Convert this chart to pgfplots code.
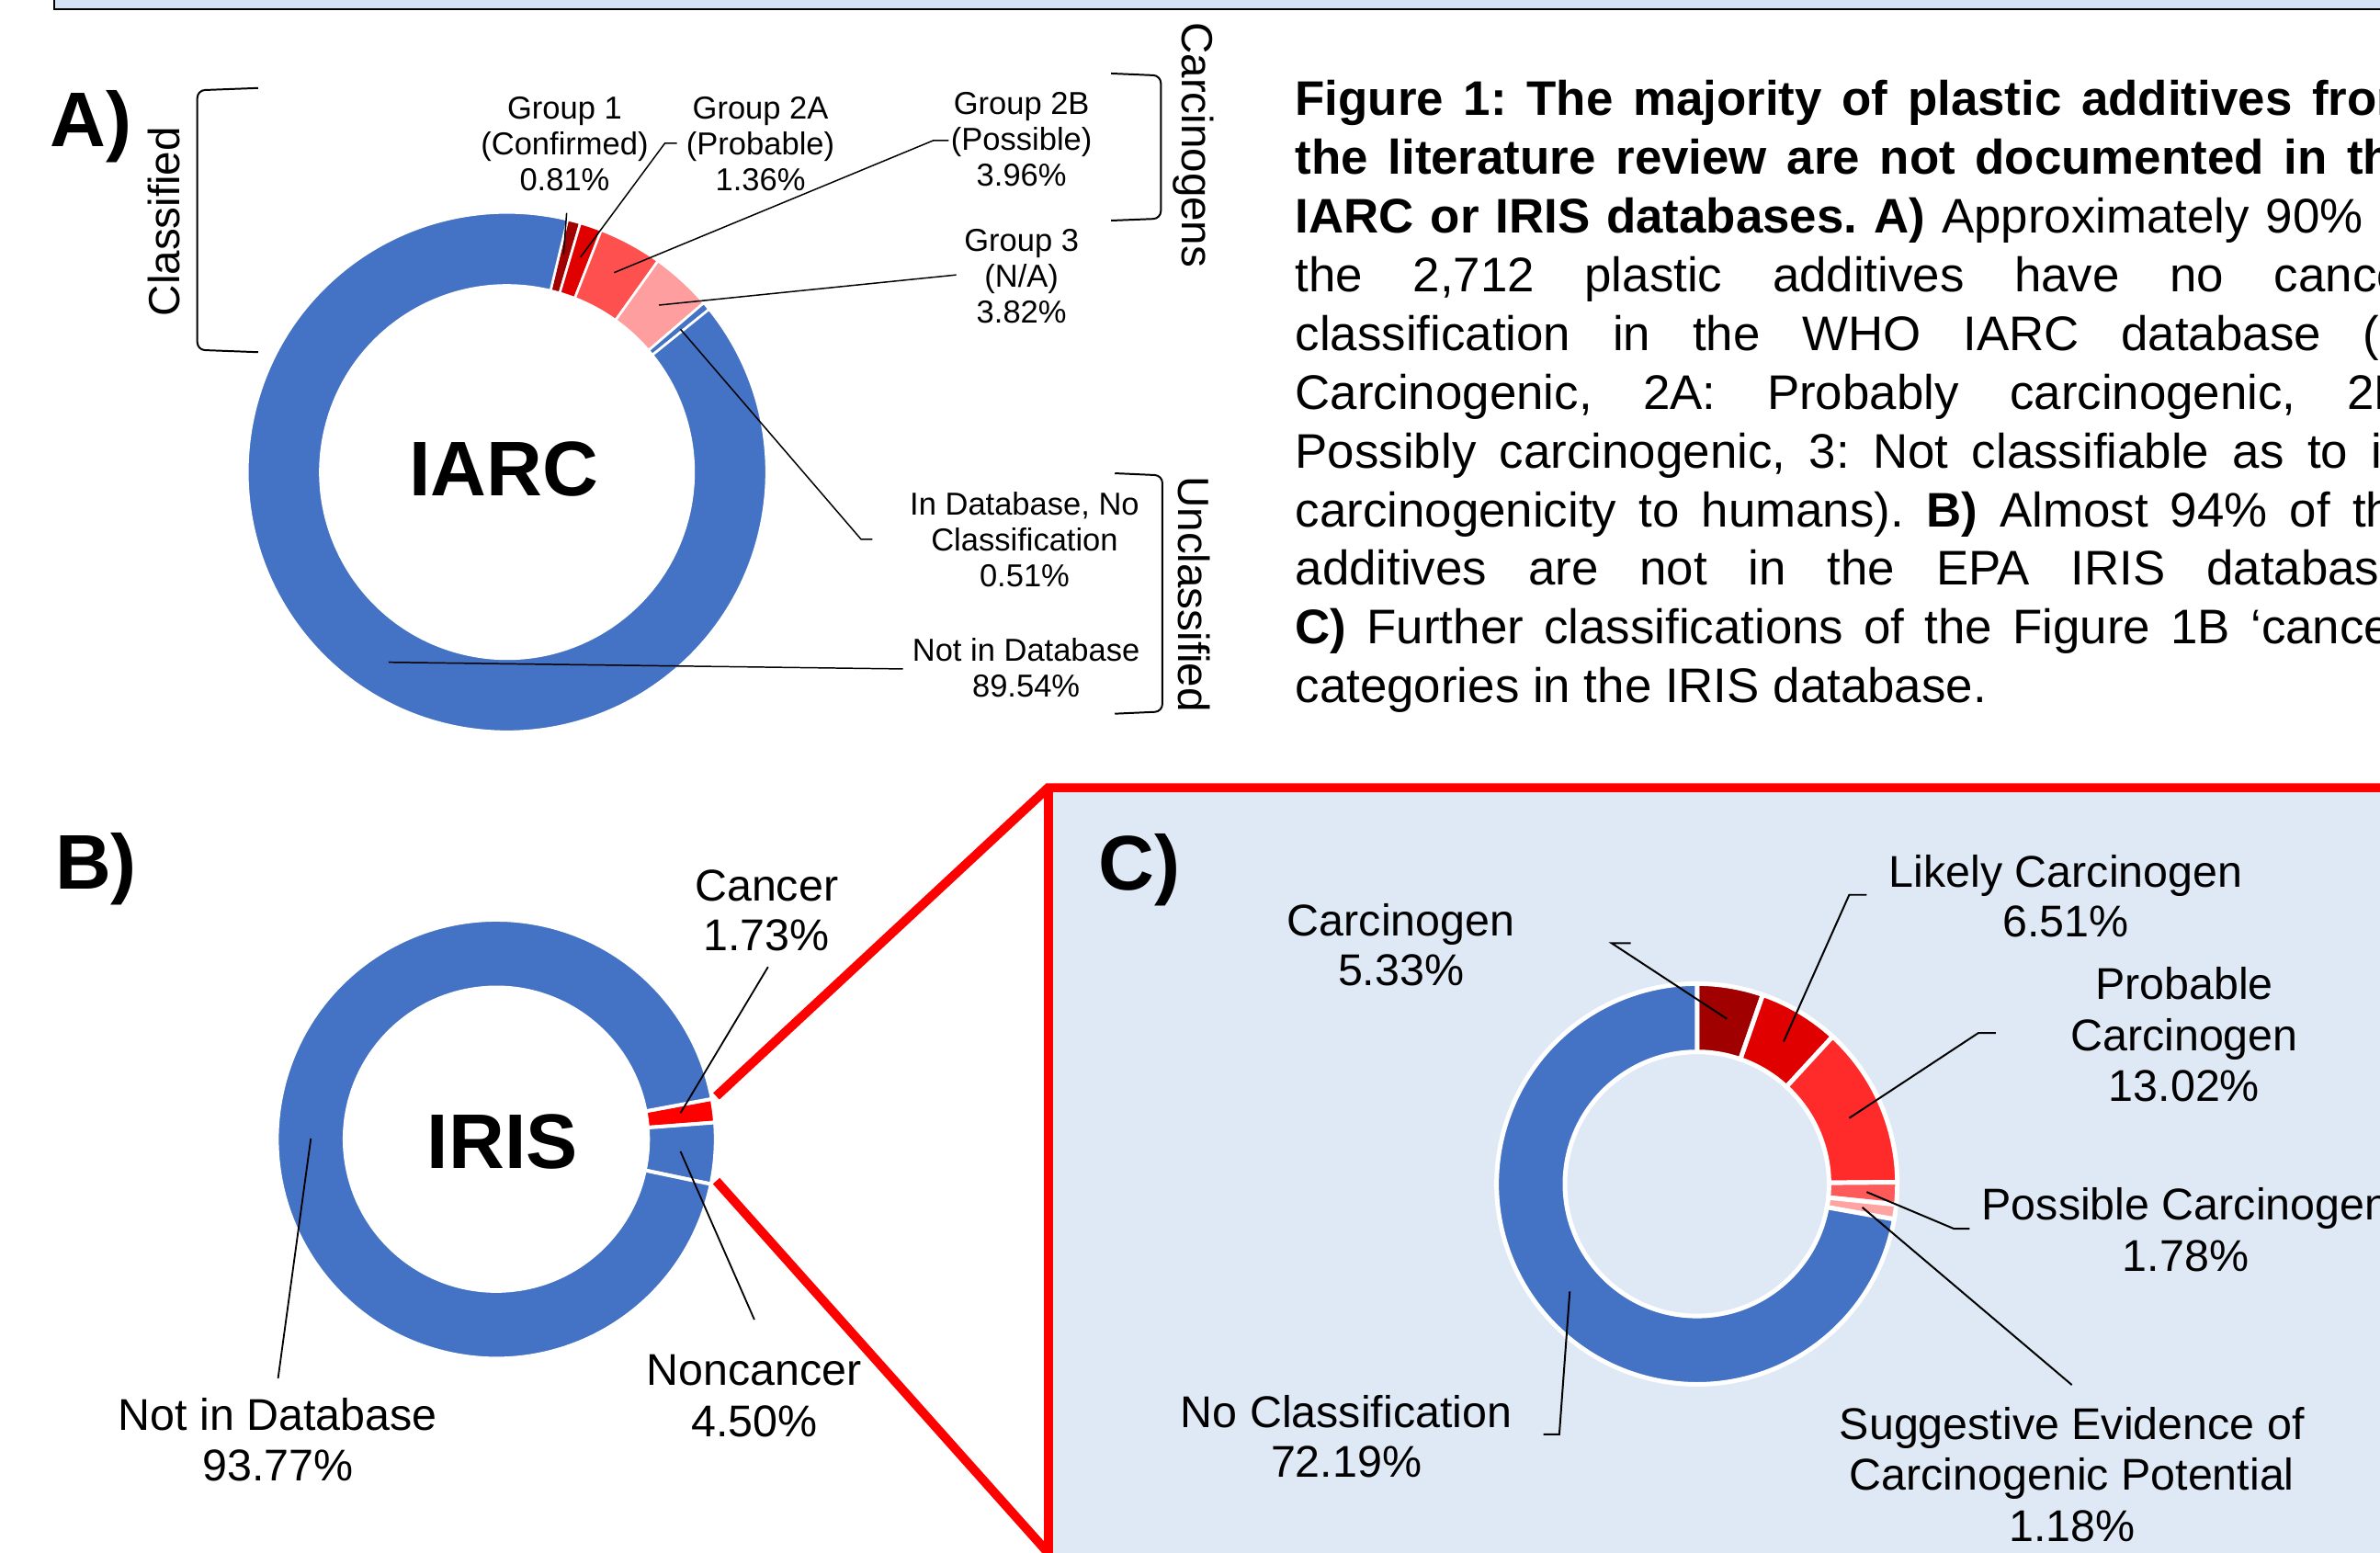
\documentclass[border=0pt]{standalone}
\usepackage{pgfplots}
\pgfplotsset{compat=1.18}
\usepackage{fontspec}
\setmainfont{Liberation Sans}
\frenchspacing
\definecolor{pblue}{HTML}{4472C4}
\definecolor{gA}{HTML}{A00000}
\definecolor{gB}{HTML}{E00000}
\definecolor{gC}{HTML}{FF5050}
\definecolor{gD}{HTML}{FF9E9E}
\definecolor{cA}{HTML}{A00000}
\definecolor{cB}{HTML}{E00000}
\definecolor{cC}{HTML}{FF2B2B}
\definecolor{cD}{HTML}{FF5A5A}
\definecolor{cE}{HTML}{FFA3A3}
\definecolor{topbg}{HTML}{D5E2F6}
\definecolor{cbg}{HTML}{DEE9F5}
\newcommand\fa{\fontsize{10.45}{12}\selectfont}
\newcommand\fb{\fontsize{14.65}{17}\selectfont}
\newcommand\fr{\fontsize{14.4}{17}\selectfont}
\newcommand\fc{\fontsize{16}{19}\selectfont}
\newcommand\fL{\bfseries\fontsize{25.5}{30}\selectfont}
\newcommand\capw{370.5pt}
% donut helpers: centre, inner radius, outer radius (in picture units), start angle
\newcommand{\donutstart}[6]{\gdef\dcx{#1}\gdef\dcy{#2}%
  \pgfmathsetmacro\dri{#3*0.5}\global\let\dri\dri
  \pgfmathsetmacro\dro{#4*0.5}\global\let\dro\dro
  \xdef\dang{#5}\gdef\seplw{#6}}
\newcommand{\slice}[2]{%
  \pgfmathsetmacro\dend{\dang-#1*3.6}%
  \edef\tmp{\noexpand\fill[fill=#2,draw=white,line width=\seplw]
    ([shift={(\dang:\dro pt)}]axis cs:\dcx,\dcy)
    arc[start angle=\dang, end angle=\dend, radius=\dro pt]
    -- ([shift={(\dend:\dri pt)}]axis cs:\dcx,\dcy)
    arc[start angle=\dend, end angle=\dang, radius=\dri pt] -- cycle;}%
  \tmp
  \xdef\dang{\dend}}
\begin{document}
\begin{tikzpicture}
\useasboundingbox (0,0) rectangle (784pt,511.5pt);
\clip (0,0) rectangle (784pt,511.5pt);
\begin{axis}[at={(0,0)}, anchor=south west, x=0.5pt, y=0.5pt,
  xmin=0, xmax=1568, ymin=0, ymax=1023, y dir=reverse,
  hide axis, clip=false]
% top frame
\draw[line width=0.6pt, fill=topbg] (36,-40) rectangle (1700,6);
% panel C box
\fill[cbg] (690.5,519) rectangle (1700,1100);
\draw[red, line width=3pt, line join=miter] (471.9,722.2) -- (690.5,519) -- (1700,519);
\draw[red, line width=3pt] (690.5,1100) -- (690.5,519);
\draw[red, line width=3pt] (471.9,778) -- (690.5,1023);

% ---------- A) IARC ----------
\donutstart{334}{311}{123}{171}{76.5}{0.8pt}
\slice{0.81}{gA}\slice{1.36}{gB}\slice{3.96}{gC}\slice{3.82}{gD}\slice{0.51}{pblue}\slice{89.54}{pblue}
\node[font=\fL] at (332,309) {IARC};
\node[anchor=base west, inner sep=0, font=\fL] at (32.6,96.6) {A)};
\begin{scope}[font=\fa]
\node[anchor=base] at (372,78.5) {Group 1};
\node[anchor=base] at (372,102) {(Confirmed)};
\node[anchor=base] at (372,125.5) {0.81\%};
\node[anchor=base] at (501,78.5) {Group 2A};
\node[anchor=base] at (501,102) {(Probable)};
\node[anchor=base] at (501,125.5) {1.36\%};
\node[anchor=base] at (673,75.5) {Group 2B};
\node[anchor=base] at (673,99) {(Possible)};
\node[anchor=base] at (673,122.5) {3.96\%};
\node[anchor=base] at (673,165.5) {Group 3};
\node[anchor=base] at (673,189) {(N/A)};
\node[anchor=base] at (673,212.5) {3.82\%};
\node[anchor=base] at (675,339.5) {In Database, No};
\node[anchor=base] at (675,363) {Classification};
\node[anchor=base] at (675,386.5) {0.51\%};
\node[anchor=base] at (676,435.5) {Not in Database};
\node[anchor=base] at (676,459) {89.54\%};
\end{scope}
\begin{scope}[line width=0.45pt]
\draw (373.3,140.3) -- (371.3,167.5);
\draw (446,94.4) -- (438,94.4) -- (382.4,169.5);
\draw (625,92.5) -- (615,92.5) -- (404.6,179.6);
\draw (630,181.1) -- (434.2,201);
\draw (448.3,216.9) -- (567.3,355.3) -- (574.8,355.3);
\draw (256,436.3) -- (594.9,440.7);
\end{scope}
\begin{scope}[line width=0.6pt, rounded corners=2.5pt]
\draw (170,58) -- (130,59.5) -- (130,230.5) -- (170,232);
\draw (732,48.4) -- (764.8,49.8) -- (764.8,144) -- (732,145.3);
\draw (734.5,311.8) -- (765.8,313.2) -- (765.8,468.8) -- (734.5,470.2);
\end{scope}
\node[rotate=90, font=\fr] at (108,146) {Classified};
\node[rotate=-90, font=\fr] at (786.5,95.5) {Carcinogens};
\node[rotate=-90, font=\fr] at (787,391.4) {Unclassified};

% ---------- caption ----------
\begin{scope}[font=\fc]
\node[anchor=base west, inner sep=0] at (853,76) {\makebox[\capw][s]{\bfseries Figure 1: The majority of plastic additives from}};
\node[anchor=base west, inner sep=0] at (853,114.7) {\makebox[\capw][s]{\bfseries the literature review are not documented in the}};
\node[anchor=base west, inner sep=0] at (853,153.4) {\makebox[\capw][s]{\textbf{IARC or IRIS databases. A)} Approximately 90\% of}};
\node[anchor=base west, inner sep=0] at (853,192.1) {\makebox[\capw][s]{the 2,712 plastic additives have no cancer}};
\node[anchor=base west, inner sep=0] at (853,230.8) {\makebox[\capw][s]{classification in the WHO IARC database (1:}};
\node[anchor=base west, inner sep=0] at (853,269.5) {\makebox[\capw][s]{Carcinogenic, 2A: Probably carcinogenic, 2B:}};
\node[anchor=base west, inner sep=0] at (853,308.2) {\makebox[\capw][s]{Possibly carcinogenic, 3: Not classifiable as to its}};
\node[anchor=base west, inner sep=0] at (853,346.9) {\makebox[\capw][s]{carcinogenicity to humans). \textbf{B)} Almost 94\% of the}};
\node[anchor=base west, inner sep=0] at (853,385.6) {\makebox[\capw][s]{additives are not in the EPA IRIS database.}};
\node[anchor=base west, inner sep=0] at (853,424.3) {\makebox[\capw][s]{\textbf{C)} Further classifications of the Figure 1B ‘cancer’}};
\node[anchor=base west, inner sep=0] at (853,463) {categories in the IRIS database.};
\end{scope}

% ---------- B) IRIS ----------
\donutstart{327}{750.5}{100}{144.5}{10.6}{1.2pt}
\slice{1.73}{red}\slice{4.50}{pblue}\slice{93.77}{pblue}
\node[font=\fL] at (331,752) {IRIS};
\node[anchor=base west, inner sep=0, font=\fL] at (36,585.5) {B)};
\begin{scope}[font=\fb]
\node[anchor=base] at (505,593.4) {Cancer};
\node[anchor=base] at (505,626.4) {1.73\%};
\node[anchor=base] at (497,912.4) {Noncancer};
\node[anchor=base] at (497,946.4) {4.50\%};
\node[anchor=base] at (183,942.4) {Not in Database};
\node[anchor=base] at (183,975.4) {93.77\%};
\end{scope}
\begin{scope}[line width=0.55pt]
\draw (506,637) -- (448.3,733.3);
\draw (448.3,758.5) -- (497,869.4);
\draw (204.8,750) -- (183.2,908);
\end{scope}

% ---------- C) IRIS cancer ----------
\donutstart{1118}{780}{87}{132}{90}{1.5pt}
\slice{5.33}{cA}\slice{6.51}{cB}\slice{13.02}{cC}\slice{1.78}{cD}\slice{1.18}{cE}\slice{72.19}{pblue}
\node[anchor=base west, inner sep=0, font=\fL] at (723.5,586.5) {C)};
\begin{scope}[font=\fb]
\node[anchor=base] at (923,616.4) {Carcinogen};
\node[anchor=base] at (923,649.4) {5.33\%};
\node[anchor=base] at (1361,584.4) {Likely Carcinogen};
\node[anchor=base] at (1361,617.4) {6.51\%};
\node[anchor=base] at (1439,658.4) {Probable};
\node[anchor=base] at (1439,692.4) {Carcinogen};
\node[anchor=base] at (1439,725.4) {13.02\%};
\node[anchor=base] at (1440,803.4) {Possible Carcinogen};
\node[anchor=base] at (1440,837.4) {1.78\%};
\node[anchor=base] at (1365,948.4) {Suggestive Evidence of};
\node[anchor=base] at (1365,981.4) {Carcinogenic Potential};
\node[anchor=base] at (1365,1015.4) {1.18\%};
\node[anchor=base] at (887,940.4) {No Classification};
\node[anchor=base] at (887,973.4) {72.19\%};
\end{scope}
\begin{scope}[line width=0.6pt]
\draw (1074.4,621.4) -- (1061.8,621.4) -- (1137.7,671.2);
\draw (1229.8,589.5) -- (1218.3,589.5) -- (1175.1,686.2);
\draw (1314.9,680.5) -- (1303.4,680.5) -- (1218.3,736.6);
\draw (1229.8,785.3) -- (1287.3,809.5) -- (1297.6,809.5);
\draw (1226.9,795.4) -- (1365,912.4);
\draw (1034.2,850.8) -- (1027.3,944.9) -- (1016.9,944.9);
\end{scope}
\end{axis}
\end{tikzpicture}
\end{document}
